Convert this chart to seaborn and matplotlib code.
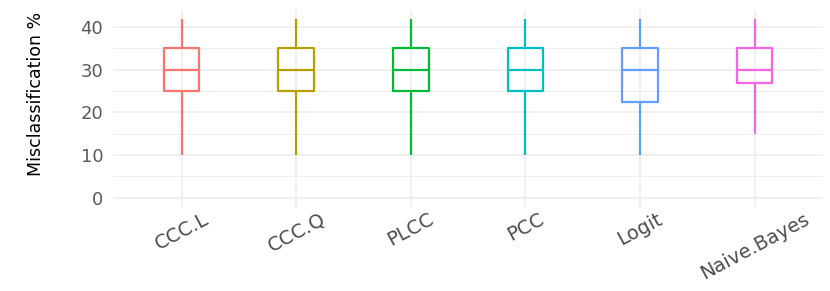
import matplotlib
matplotlib.use("Agg")
import matplotlib.pyplot as plt
import seaborn as sns
import pandas as pd

methods = ["CCC.L", "CCC.Q", "PLCC", "PCC", "Logit", "Naive.Bayes"]
ccc_l = [10, 25, 30, 35, 42]
ccc_q = [10, 25, 30, 35, 42]
plcc = [10, 25, 30, 35, 42]
pcc = [10, 25, 30, 35, 42]
logit = [10, 22.5, 30, 35, 42]
naive_bayes = [15, 27, 30, 35, 42]

y_ticks = [0, 10, 20, 30, 40]
palette = ["#F8766D", "#B79F00", "#00BA38", "#00BFC4", "#619CFF", "#F564E3"]

values = [ccc_l, ccc_q, plcc, pcc, logit, naive_bayes]
df = pd.DataFrame({
    "method": [m for m, v in zip(methods, values) for _ in v],
    "err": [x for v in values for x in v],
})

sns.set_style("white")
fig = plt.figure(figsize=(8.3, 2.91), dpi=100)
ax = fig.add_axes([0.136, 0.290, 0.856, 0.677])

grid = "#EBEBEB"
# ggplot-like grid: major + minor horizontal, vertical at categories
for y in y_ticks:
    ax.axhline(y, color=grid, lw=1.1, zorder=0)
for y in [5, 15, 25, 35]:
    ax.axhline(y, color=grid, lw=0.6, zorder=0)
for i in range(len(methods)):
    ax.axvline(i, color=grid, lw=1.1, zorder=0)

sns.boxplot(
    data=df, x="method", y="err", hue="method", order=methods,
    palette=palette, fill=False, width=0.31, linewidth=1.6,
    whis=1.5, showcaps=False, legend=False, ax=ax, zorder=2,
)

ax.set_xlim(-0.6, len(methods) - 0.4)
ax.set_ylim(-2.1, 44.1)
ax.set_yticks(y_ticks)
ax.set_xlabel("")
ax.set_ylabel("Misclassification %", fontsize=12.5, color="black")
ax.yaxis.set_label_coords(-0.096, 0.57)

for s in ax.spines.values():
    s.set_visible(False)

ax.tick_params(axis="y", length=3, color="#AAAAAA", labelsize=13,
               labelcolor="#5A5A5A", pad=4)
ax.tick_params(axis="x", length=2, color="#9A9A9A", labelsize=14,
               labelcolor="#4D4D4D", pad=0)
for lab in ax.get_xticklabels():
    lab.set_rotation(28)
    lab.set_ha("center")
    lab.set_va("top")

fig.savefig("out.png", dpi=100)
